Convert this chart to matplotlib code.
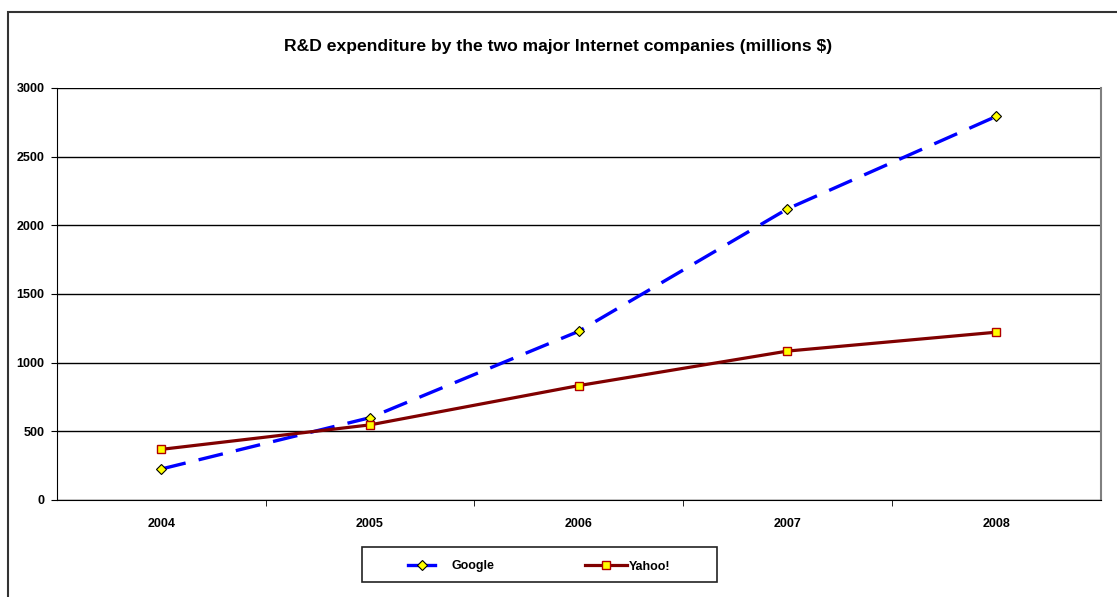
import matplotlib
matplotlib.use("Agg")
import matplotlib.pyplot as plt
from matplotlib.patches import Rectangle
from matplotlib.lines import Line2D

years = ["2004", "2005", "2006", "2007", "2008"]
google = [225.8, 599.5, 1228.6, 2119.9, 2793.2]
yahoo = [368.8, 547.1, 833.0, 1084.4, 1221.8]
yticks = [0, 500, 1000, 1500, 2000, 2500, 3000]
series_names = ["Google", "Yahoo!"]
title = "R&D expenditure by the two major Internet companies (millions $)"

plt.rcParams['font.family'] = ['Liberation Sans', 'DejaVu Sans']

W, H = 1117, 597
fig = plt.figure(figsize=(W / 100, H / 100), dpi=100)


def fx(px):
    return px / W


def fy(py):
    return (H - py) / H


# outer chart border
fig.patches.append(Rectangle((fx(8), -0.1), 1.2, fy(12) + 0.1,
                             transform=fig.transFigure, fill=False,
                             edgecolor='#333333', linewidth=1.5))

g_style = dict(color='#0000FF', linewidth=2.4, marker='D', markersize=4.8,
               markerfacecolor='#FFFF00', markeredgecolor='#000000',
               markeredgewidth=0.8)
y_style = dict(color='#800000', linewidth=2.3, marker='s', markersize=6,
               markerfacecolor='#FFFF00', markeredgecolor='#B00000',
               markeredgewidth=1)

ax = fig.add_axes([fx(57), fy(500), fx(1100.5) - fx(57), fy(88) - fy(500)])
x = list(range(len(years)))
ax.plot(x, google, linestyle=(0, (7.5, 4)), zorder=3, **g_style)
ax.plot(x, yahoo, linestyle='-', zorder=3, **y_style)

ax.set_xlim(-0.5, len(years) - 0.5)
ax.set_ylim(0, 3000)
ax.set_yticks(yticks)
ax.set_yticklabels([str(v) for v in yticks], fontsize=9, fontweight='bold')
ax.set_xticks(x)
ax.set_xticklabels(years, fontsize=9, fontweight='bold')
ax.tick_params(axis='x', which='major', length=0, pad=13)
ax.set_xticks([i + 0.5 for i in x[:-1]], minor=True)
ax.tick_params(axis='x', which='minor', length=4, direction='out', color='black')
ax.tick_params(axis='y', length=4, direction='out', pad=5, color='black')
ax.grid(axis='y', color='black', linewidth=1)
ax.set_axisbelow(True)
ax.spines['top'].set_visible(False)
ax.spines['left'].set_color('black')
ax.spines['bottom'].set_color('black')
ax.spines['right'].set_color('#808080')
ax.spines['right'].set_linewidth(1.5)

fig.text(0.5, fy(47), title, ha='center', va='center',
         fontsize=12.6, fontweight='bold')

# legend box (drawn manually to match handle lengths)
fig.patches.append(Rectangle((fx(362), fy(582)), fx(717) - fx(362), fy(547) - fy(582),
                             transform=fig.transFigure, fill=True, facecolor='white',
                             edgecolor='#222222', linewidth=1.2))
ly = fy(565)
tb = fy(569.5)
marker_keys = ('marker', 'markersize', 'markerfacecolor', 'markeredgecolor',
               'markeredgewidth')
fig.lines.append(Line2D([fx(408), fx(435)], [ly, ly], transform=fig.transFigure,
                        color='#0000FF', linewidth=2.4, linestyle='-'))
fig.lines.append(Line2D([fx(421.5)], [ly], transform=fig.transFigure,
                        linestyle='none', **{k: g_style[k] for k in marker_keys}))
fig.text(fx(451), tb, series_names[0], ha='left', va='baseline', fontsize=9,
         fontweight='bold')
fig.lines.append(Line2D([fx(585), fx(627)], [ly, ly], transform=fig.transFigure,
                        color='#800000', linewidth=2.3, linestyle='-'))
fig.lines.append(Line2D([fx(606)], [ly], transform=fig.transFigure,
                        linestyle='none', **{k: y_style[k] for k in marker_keys}))
fig.text(fx(629), tb, series_names[1], ha='left', va='baseline', fontsize=9,
         fontweight='bold')

fig.savefig("out.png", dpi=100)
